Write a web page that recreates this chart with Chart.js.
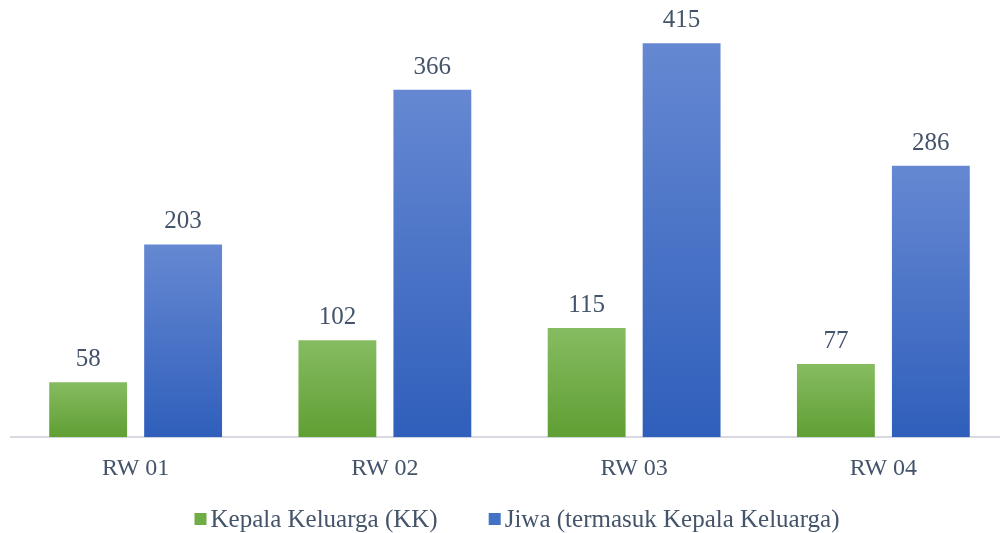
<!DOCTYPE html>
<html>
<head>
<meta charset="utf-8">
<script src="https://cdn.jsdelivr.net/npm/chart.js@4"></script>
<style>
  html, body { margin: 0; padding: 0; background: #fff; overflow: hidden; }
  #wrap { width: 1000px; height: 533px; overflow: hidden; }
</style>
</head>
<body>
<div id="wrap"><canvas id="myChart" width="1008" height="533"></canvas></div>
<script>
const categories = ['RW 01', 'RW 02', 'RW 03', 'RW 04'];
const kkValues = [58, 102, 115, 77];
const jiwaValues = [203, 366, 415, 286];
const seriesNames = ['Kepala Keluarga (KK)', 'Jiwa (termasuk Kepala Keluarga)'];

const FONT = "'Liberation Serif', 'Times New Roman', serif";
const TEXT = '#44546a';
const swatch = ['#70ad47', '#4472c4'];

function barGradient(top, bottom) {
    return function (c) {
        const chart = c.chart;
        if (!chart.chartArea || c.raw === undefined) return bottom;
        const y = chart.scales.y;
        const g = chart.ctx.createLinearGradient(0, y.getPixelForValue(c.raw), 0, y.getPixelForValue(0));
        g.addColorStop(0, top);
        g.addColorStop(1, bottom);
        return g;
    };
}

// value above every bar
const valueLabels = {
    id: 'valueLabels',
    afterDatasetsDraw(chart) {
        const ctx = chart.ctx;
        ctx.save();
        ctx.font = '25px ' + FONT;
        ctx.fillStyle = TEXT;
        ctx.textAlign = 'center';
        ctx.textBaseline = 'alphabetic';
        chart.data.datasets.forEach((ds, i) => {
            chart.getDatasetMeta(i).data.forEach((bar, j) => {
                ctx.fillText(ds.data[j], bar.x, bar.y - 16);
            });
        });
        ctx.restore();
    }
};

// legend like the office one: small square, short gap, wide spacing
const bottomLegend = {
    id: 'bottomLegend',
    afterDraw(chart) {
        const ctx = chart.ctx;
        const box = 12, gap = 4, spacing = 51;
        ctx.save();
        ctx.font = '25px ' + FONT;
        const widths = chart.data.datasets.map(ds => ctx.measureText(ds.label).width);
        let total = 0;
        widths.forEach((w, i) => { total += box + gap + w + (i ? spacing : 0); });
        const mid = chart.width / 2 + 13;
        let x = mid - total / 2;
        const y = chart.height - 14;
        ctx.textBaseline = 'middle';
        ctx.textAlign = 'left';
        chart.data.datasets.forEach((ds, i) => {
            ctx.fillStyle = swatch[i];
            ctx.fillRect(x, y - box / 2, box, box);
            ctx.fillStyle = TEXT;
            ctx.fillText(ds.label, x + box + gap, y + 1);
            x += box + gap + widths[i] + spacing;
        });
        ctx.restore();
    }
};

const ctx = document.getElementById('myChart').getContext('2d');
new Chart(ctx, {
    type: 'bar',
    data: {
        labels: categories,
        datasets: [
            {
                label: seriesNames[0],
                data: kkValues,
                backgroundColor: barGradient('#86bc61', '#5f9f33'),
                borderWidth: 0,
                categoryPercentage: 0.762,
                barPercentage: 0.82
            },
            {
                label: seriesNames[1],
                data: jiwaValues,
                backgroundColor: barGradient('#6688d2', '#2f5fbb'),
                borderWidth: 0,
                categoryPercentage: 0.762,
                barPercentage: 0.82
            }
        ]
    },
    options: {
        responsive: false,
        animation: false,
        layout: { padding: { left: 11, right: 0, top: 10, bottom: 41 } },
        plugins: {
            legend: { display: false },
            tooltip: { enabled: false }
        },
        scales: {
            x: {
                grid: { display: false },
                border: { display: true, color: '#d9d9e3', width: 2 },
                ticks: { font: { family: FONT, size: 24 }, color: TEXT, padding: 9 }
            },
            y: {
                display: false,
                min: 0,
                max: 450
            }
        }
    },
    plugins: [valueLabels, bottomLegend]
});
</script>
</body>
</html>
